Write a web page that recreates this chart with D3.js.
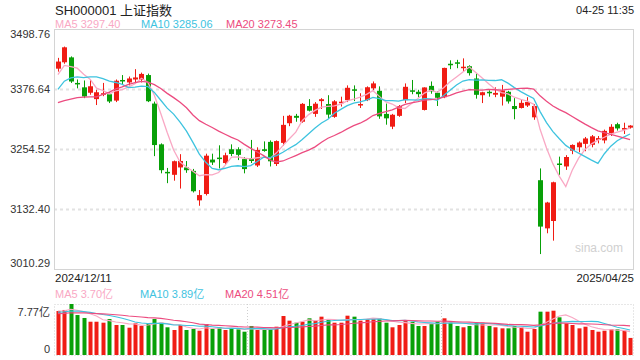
<!DOCTYPE html>
<html>
<head>
<meta charset="utf-8">
<script src="https://cdn.jsdelivr.net/npm/d3@7"></script>
<style>
  body { margin: 0; background: #fff; }
  svg text { font-family: "Liberation Sans", Arial, "Noto Sans CJK SC", sans-serif; }
</style>
</head>
<body>
<div id="chart"></div>
<script>
const dates = [
  "2024-12-11","2024-12-12","2024-12-13","2024-12-16","2024-12-17","2024-12-18","2024-12-19","2024-12-20","2024-12-23","2024-12-24","2024-12-25","2024-12-26","2024-12-27","2024-12-30","2024-12-31",
  "2025-01-02","2025-01-03","2025-01-06","2025-01-07","2025-01-08","2025-01-09","2025-01-10","2025-01-13","2025-01-14","2025-01-15","2025-01-16","2025-01-17","2025-01-20","2025-01-21","2025-01-22","2025-01-23","2025-01-24","2025-01-27",
  "2025-02-05","2025-02-06","2025-02-07","2025-02-10","2025-02-11","2025-02-12","2025-02-13","2025-02-14","2025-02-17","2025-02-18","2025-02-19","2025-02-20","2025-02-21","2025-02-24","2025-02-25","2025-02-26","2025-02-27","2025-02-28",
  "2025-03-03","2025-03-04","2025-03-05","2025-03-06","2025-03-07","2025-03-10","2025-03-11","2025-03-12","2025-03-13","2025-03-14","2025-03-17","2025-03-18","2025-03-19","2025-03-20","2025-03-21","2025-03-24","2025-03-25","2025-03-26","2025-03-27","2025-03-28","2025-03-31",
  "2025-04-01","2025-04-02","2025-04-03","2025-04-07","2025-04-08","2025-04-09","2025-04-10","2025-04-11","2025-04-14","2025-04-15","2025-04-16","2025-04-17","2025-04-18","2025-04-21","2025-04-22","2025-04-23","2025-04-24","2025-04-25"
];

const opens = [
  3418,3431,3441,3389,3380,3369,3356,3366,3366,3353,3395,3390,3396,3395,3405,
  3347,3264,3208,3202,3217,3217,3210,3150,3163,3233,3237,3226,3254,3254,3234,3236,3221,3254,
  3269,3224,3267,3307,3322,3310,3342,3326,3352,3346,3320,3349,3354,3376,3344,3354,3378,3373,
  3326,3300,3322,3354,3374,3371,3334,3383,3369,3360,3428,3431,3420,3423,3398,3364,3371,3365,3361,3371,3342,
  3338,3343,3319,3191,3093,3108,3225,3219,3251,3258,3265,3263,3273,3272,3287,3305,3294,3298
];
const highs = [
  3440,3463,3443,3396,3394,3395,3375,3389,3370,3396,3405,3402,3417,3410,3408,
  3351,3266,3216,3231,3244,3230,3214,3171,3245,3245,3262,3247,3264,3258,3238,3273,3258,3270,
  3272,3272,3322,3324,3326,3348,3356,3350,3358,3364,3354,3361,3384,3384,3368,3382,3392,3382,
  3347,3326,3344,3388,3395,3375,3380,3392,3372,3420,3435,3436,3439,3425,3408,3371,3374,3380,3385,3373,3358,
  3356,3360,3346,3215,3147,3188,3239,3242,3264,3270,3279,3283,3281,3294,3305,3308,3308,3303
];
const lows = [
  3412,3428,3389,3378,3358,3365,3344,3362,3348,3350,3385,3384,3388,3390,3350,
  3240,3205,3185,3190,3174,3206,3166,3139,3160,3222,3215,3222,3240,3232,3205,3226,3218,3249,
  3219,3220,3261,3301,3310,3308,3331,3320,3336,3316,3318,3341,3350,3352,3338,3352,3374,3316,
  3304,3295,3320,3348,3366,3360,3333,3367,3342,3358,3417,3419,3413,3404,3357,3348,3361,3360,3343,3347,3315,
  3337,3340,3314,3040.69,3083,3068,3202,3212,3244,3248,3250,3258,3266,3266,3281,3292,3285,3296
];
const closes = [
  3432.49,3461.50,3391.88,3386.33,3361.49,3382.21,3370.03,3368.07,3351.26,3393.53,3393.35,3398.08,3400.14,3407.33,3351.76,
  3262.56,3211.43,3206.92,3229.64,3230.17,3211.39,3168.52,3160.76,3240.94,3227.12,3236.03,3241.82,3244.38,3242.62,3213.62,3230.16,3252.63,3250.60,
  3229.49,3270.66,3303.67,3322.17,3318.06,3346.39,3332.48,3346.72,3355.83,3324.49,3351.54,3350.78,3379.11,3373.03,3346.04,3380.21,3388.06,3320.90,
  3316.93,3324.21,3341.96,3381.10,3372.55,3366.16,3379.83,3371.92,3358.73,3419.56,3426.43,3429.76,3422.00,3408.95,3364.83,3370.03,3369.98,3368.70,3373.75,3351.31,3335.75,
  3348.44,3350.13,3342.01,3096.58,3145.55,3186.81,3223.64,3238.23,3262.81,3267.66,3276.00,3280.34,3276.73,3291.43,3299.76,3296.36,3297.29,3302.20
];
// volume, 亿
const volumes = [
  6.70,6.86,7.77,6.09,5.64,5.07,5.07,4.92,5.48,4.57,4.57,4.16,4.83,4.42,4.83,
  5.48,4.92,4.22,3.81,4.57,3.81,3.96,3.70,4.72,3.96,4.22,3.81,4.06,3.91,3.55,4.42,3.81,3.81,
  3.91,4.31,5.94,5.23,4.92,5.07,5.59,5.23,5.84,5.43,4.92,4.92,5.99,5.84,5.23,5.43,5.59,5.59,
  4.92,4.22,4.57,5.33,5.07,4.42,4.42,4.83,5.07,5.59,5.07,4.42,4.22,4.42,4.92,4.92,4.42,4.22,4.06,4.06,4.42,
  4.22,3.55,3.96,6.60,6.60,6.75,5.74,4.83,4.57,4.06,4.31,3.81,3.55,3.70,3.91,3.91,3.70,2.60
];
// the 19 sessions before the first candle, so the averages start at the left edge
const priorCloses = [3379.84,3330.73,3323.85,3346.01,3367.99,3370.40,3267.19,3263.76,3259.76,3309.78,
  3295.70,3326.46,3363.98,3378.81,3364.65,3368.86,3404.08,3402.53,3422.66];
const priorVolumes = [6.1,5.9,6.3,5.8,6.0,6.2,5.9,6.4,6.1,6.2,6.3,6.4,6.2,6.5,6.2,6.7,6.6,6.8,6.7];

const priceTicks = [3498.76, 3376.64, 3254.52, 3132.40, 3010.29];
const volMax = 7.77;

const maPeriods = [5, 10, 20];
const maColors = ["#f9a8c4", "#3ec3df", "#ec4c80"];
const priceMaLabels = ["MA5 3297.40", "MA10 3285.06", "MA20 3273.45"];
const volMaLabels = ["MA5 3.70亿", "MA10 3.89亿", "MA20 4.51亿"];

const upColor = "#f01c14";
const downColor = "#08a008";

const W = 640, H = 360;
const left = 54, right = 634;
const pTop = 29, pBottom = 269;
const vTop = 304, vBottom = 355;

const svg = d3.select("#chart").append("svg")
  .attr("width", W).attr("height", H);

const x = d3.scaleBand().domain(dates).range([left, right]).padding(0.22);
const cx = (d) => x(d) + x.bandwidth() / 2;
const y = d3.scaleLinear().domain([priceTicks[4], priceTicks[0]]).range([pBottom, pTop]);
const yv = d3.scaleLinear().domain([0, volMax]).range([vBottom, vTop]);

const bars = dates.map((d, i) => ({
  date: d, o: opens[i], h: highs[i], l: lows[i], c: closes[i], v: volumes[i],
  up: closes[i] >= opens[i]
}));

function movingAvg(prior, values, n) {
  const all = prior.concat(values);
  return values.map((_, i) => {
    const end = prior.length + i + 1;
    return d3.mean(all.slice(end - n, end));
  });
}

// ---- header
svg.append("text").attr("x", 55).attr("y", 15)
  .attr("font-size", 13).attr("fill", "#222").text("SH000001 上证指数");
svg.append("text").attr("x", right).attr("y", 14).attr("text-anchor", "end")
  .attr("font-size", 11).attr("fill", "#222").text("04-25 11:35");

const legendX = [55, 141, 226];
priceMaLabels.forEach((t, k) => {
  svg.append("text").attr("x", legendX[k]).attr("y", 28)
    .attr("font-size", 11).attr("fill", maColors[k]).text(t);
});

// ---- price panel
svg.append("g").selectAll("line")
  .data(priceTicks.slice(1, 4))
  .join("line")
  .attr("x1", left).attr("x2", right)
  .attr("y1", (d) => Math.round(y(d)) + 0.5).attr("y2", (d) => Math.round(y(d)) + 0.5)
  .attr("stroke", "#e2e2e2").attr("stroke-width", 2).attr("stroke-dasharray", "3,3");

svg.append("rect")
  .attr("x", left + 0.5).attr("y", pTop + 0.5)
  .attr("width", right - left - 1).attr("height", pBottom - pTop)
  .attr("fill", "none").attr("stroke", "#d4d4d4");

svg.append("g").selectAll("text")
  .data(priceTicks)
  .join("text")
  .attr("x", 50)
  .attr("y", (d, i) => y(d) + (i === 0 ? 9 : i === 4 ? -2 : 4))
  .attr("text-anchor", "end").attr("font-size", 11).attr("fill", "#333")
  .text((d) => d.toFixed(2));

svg.append("text").attr("x", 623).attr("y", 252).attr("text-anchor", "end")
  .attr("font-size", 12).attr("fill", "#d0d0d0").text("sina.com");

const candles = svg.append("g").selectAll("g")
  .data(bars)
  .join("g")
  .attr("fill", (d) => d.up ? upColor : downColor)
  .attr("stroke", (d) => d.up ? upColor : downColor);

candles.append("line")
  .attr("x1", (d) => Math.round(cx(d.date)) + 0.5).attr("x2", (d) => Math.round(cx(d.date)) + 0.5)
  .attr("y1", (d) => y(d.h)).attr("y2", (d) => y(d.l))
  .attr("stroke-width", 1);

candles.append("rect")
  .attr("x", (d) => Math.round(cx(d.date)) - 2)
  .attr("width", 5)
  .attr("y", (d) => y(Math.max(d.o, d.c)))
  .attr("height", (d) => Math.max(1.5, y(Math.min(d.o, d.c)) - y(Math.max(d.o, d.c))))
  .attr("stroke", "none");

maPeriods.forEach((n, k) => {
  const ma = movingAvg(priorCloses, closes, n);
  svg.append("path")
    .datum(ma)
    .attr("fill", "none").attr("stroke", maColors[k]).attr("stroke-width", 1.3)
    .attr("d", d3.line().x((d, i) => cx(dates[i])).y((d) => y(d)));
});

// ---- date labels
svg.append("text").attr("x", 55).attr("y", 282)
  .attr("font-size", 11.5).attr("fill", "#222").text(dates[0].replace(/-/g, "/"));
svg.append("text").attr("x", right).attr("y", 282).attr("text-anchor", "end")
  .attr("font-size", 11.5).attr("fill", "#222").text(dates[dates.length - 1].replace(/-/g, "/"));

// ---- volume panel
volMaLabels.forEach((t, k) => {
  svg.append("text").attr("x", [55, 140, 225][k]).attr("y", 298)
    .attr("font-size", 11).attr("fill", maColors[k]).text(t);
});

const thirds = [left + (right - left) / 3, left + 2 * (right - left) / 3];
svg.append("g").selectAll("line")
  .data(thirds)
  .join("line")
  .attr("x1", (d) => Math.round(d) + 0.5).attr("x2", (d) => Math.round(d) + 0.5)
  .attr("y1", vTop).attr("y2", vBottom)
  .attr("stroke", "#cfcfcf").attr("stroke-dasharray", "1,2");

svg.append("rect")
  .attr("x", left + 0.5).attr("y", vTop + 0.5)
  .attr("width", right - left - 1).attr("height", vBottom - vTop)
  .attr("fill", "none").attr("stroke", "#cfcfcf").attr("stroke-dasharray", "1,2");

svg.append("text").attr("x", 50).attr("y", yv(volMax) + 12).attr("text-anchor", "end")
  .attr("font-size", 11).attr("fill", "#333").text(volMax.toFixed(2) + "亿");
svg.append("text").attr("x", 50).attr("y", yv(0) - 2).attr("text-anchor", "end")
  .attr("font-size", 11).attr("fill", "#333").text("0");

svg.append("g").selectAll("rect")
  .data(bars)
  .join("rect")
  .attr("x", (d) => Math.round(cx(d.date)) - 1.5)
  .attr("width", 4)
  .attr("y", (d) => yv(d.v))
  .attr("height", (d) => yv(0) - yv(d.v))
  .attr("fill", (d) => d.up ? upColor : downColor);

maPeriods.forEach((n, k) => {
  const ma = movingAvg(priorVolumes, volumes, n);
  svg.append("path")
    .datum(ma)
    .attr("fill", "none").attr("stroke", maColors[k]).attr("stroke-width", 1.1)
    .attr("d", d3.line().x((d, i) => cx(dates[i])).y((d) => yv(d)));
});
</script>
</body>
</html>
